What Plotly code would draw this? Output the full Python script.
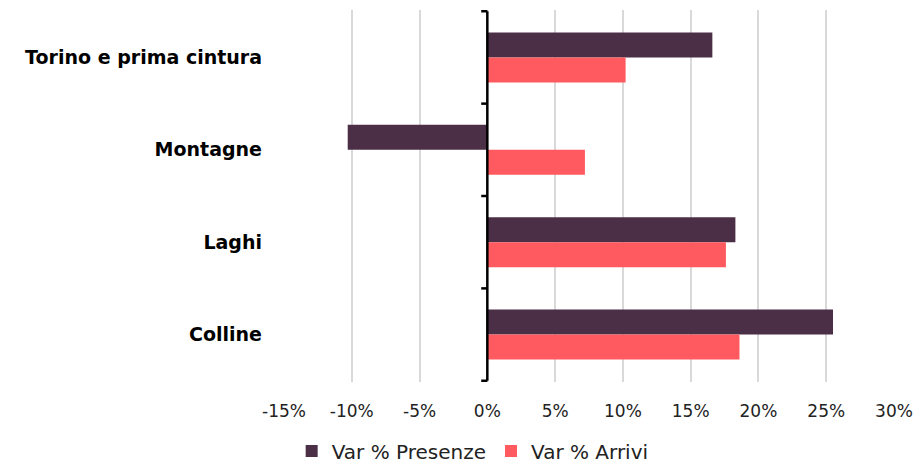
import plotly.graph_objects as go

categories = ["Torino e prima cintura", "Montagne", "Laghi", "Colline"]
var_presenze = [0.166, -0.103, 0.183, 0.255]
var_arrivi = [0.102, 0.072, 0.176, 0.186]
x_ticks = [-0.15, -0.10, -0.05, 0, 0.05, 0.10, 0.15, 0.20, 0.25, 0.30]
x_tick_labels = ["-15%", "-10%", "-5%", "0%", "5%", "10%", "15%", "20%", "25%", "30%"]

FONT = "DejaVu Sans"

fig = go.Figure()
fig.add_trace(go.Bar(y=categories, x=var_presenze, orientation="h", name="Var % Presenze",
                     marker=dict(color="#4B2F47", line=dict(width=0))))
fig.add_trace(go.Bar(y=categories, x=var_arrivi, orientation="h", name="Var % Arrivi",
                     marker=dict(color="#FF5A5F", line=dict(width=0))))

# vertical axis line at 0 with tick marks at category boundaries
for b in [-0.5, 0.5, 1.5, 2.5, 3.5]:
    fig.add_shape(type="line", xref="x", yref="y", x0=-0.0045, x1=0, y0=b, y1=b,
                  line=dict(color="black", width=2.5))
fig.add_shape(type="line", xref="x", yref="y", x0=0, x1=0, y0=-0.5, y1=3.5,
              line=dict(color="black", width=2.5))

fig.update_layout(
    width=923, height=466,
    margin=dict(l=284, r=26, t=10, b=84),
    plot_bgcolor="white", paper_bgcolor="white",
    barmode="group", bargap=0.46, bargroupgap=0,
    font=dict(family=FONT, color="#111111"),
    showlegend=True,
    legend=dict(orientation="h", xref="container", yref="container",
                x=0.316, xanchor="left", y=1 - 451 / 466, yanchor="middle",
                font=dict(size=20, family=FONT, color="#222222"),
                itemwidth=30, traceorder="normal"),
    xaxis=dict(range=[-0.15, 0.30], tickvals=x_ticks, ticktext=x_tick_labels,
               showgrid=True, gridcolor="#d9d9d9", gridwidth=1.5,
               zeroline=False, showline=False, ticks="",
               tickfont=dict(size=17, family=FONT, color="#222222"),
               ticklabelstandoff=17),
    yaxis=dict(categoryorder="array", categoryarray=categories, autorange="reversed",
               showgrid=False, zeroline=False, showline=False, ticks="",
               tickfont=dict(size=19, family=FONT, color="black", weight="bold"),
               ticklabelstandoff=21),
)

fig.write_html("out.html", post_script="document.body.style.margin='0';",
               config={"displayModeBar": False})
